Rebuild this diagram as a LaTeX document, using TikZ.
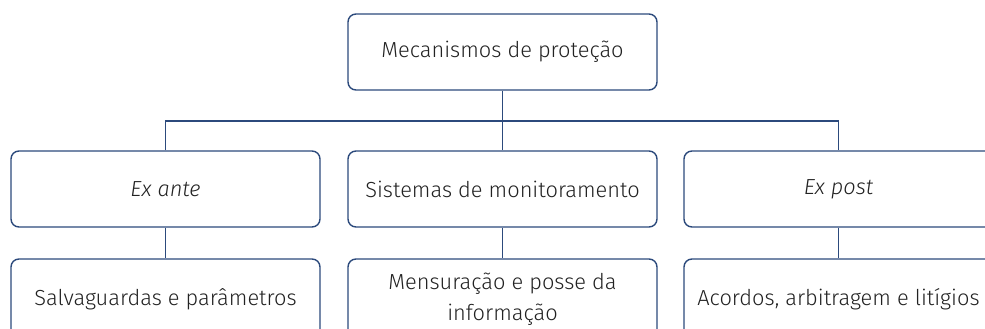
\documentclass[tikz,border=0pt]{standalone}
\usepackage{fontspec}
\setmainfont{Fira Sans}[UprightFont={* Light}, ItalicFont={* Light Italic}]
\definecolor{boxblue}{RGB}{44,74,124}
\definecolor{txtgray}{RGB}{34,34,34}
\tikzset{
  mbox/.style={draw=boxblue, line width=1.4pt, rounded corners=8pt, fill=white,
    minimum width=309pt, minimum height=76pt, inner sep=0pt, align=center,
    text=txtgray, font=\fontsize{21.8pt}{31pt}\selectfont},
  lbox/.style={mbox, minimum height=80pt},
  conn/.style={draw=boxblue, line width=1.4pt}
}
\begin{document}
\begin{tikzpicture}[x=1pt,y=-1pt]
\useasboundingbox (0,0) rectangle (985,329);
\clip (0,0) rectangle (985,329);
\node[mbox] (top) at (502.5,52) {Mecanismos de proteção};
\node[mbox] (a) at (165.5,189) {\textit{Ex ante}};
\node[mbox] (b) at (502.5,189) {Sistemas de monitoramento};
\node[mbox] (c) at (838.5,189) {\textit{Ex post}};
\node[lbox] (a2) at (165.5,299) {Salvaguardas e parâmetros};
\node[lbox] (b2) at (502.5,299) {Mensuração e posse da\\informação};
\node[lbox] (c2) at (838.5,299) {Acordos, arbitragem e litígios};
\coordinate (j) at (502.5,121);
\draw[conn] (top) -- (b);
\draw[conn] (a.north) |- (j) -| (c.north);
\draw[conn] (a) -- (a2);
\draw[conn] (b) -- (b2);
\draw[conn] (c) -- (c2);
\end{tikzpicture}
\end{document}
